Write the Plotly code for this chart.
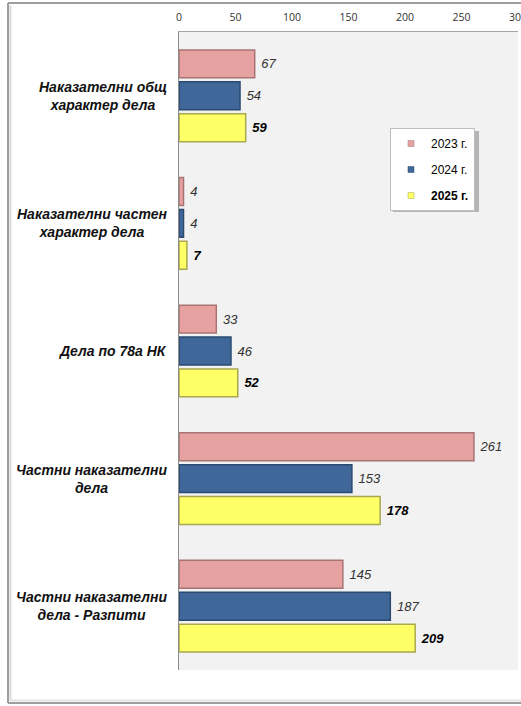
import plotly.graph_objects as go

categories = [
    "Наказателни общ<br>характер дела",
    "Наказателни частен<br>характер дела",
    "Дела по 78а НК",
    "Частни наказателни<br>дела",
    "Частни наказателни<br>дела - Разпити",
]
series_names = ["2023 г.", "2024 г.", "2025 г."]
values_2023 = [67, 4, 33, 261, 145]
values_2024 = [54, 4, 46, 153, 187]
values_2025 = [59, 7, 52, 178, 209]
x_ticks = [0, 50, 100, 150, 200, 250, 300]

series_values = [values_2023, values_2024, values_2025]
fills = ["#E6A1A1", "#3F6799", "#FFFF66"]
edges = ["#A87373", "#2B4A70", "#A8A850"]
FONT = "Liberation Sans, Arial, sans-serif"

fig = go.Figure()
for i, (name, vals) in enumerate(zip(series_names, series_values)):
    bold = i == 2
    fig.add_trace(go.Bar(
        y=categories, x=vals, orientation="h", name=name,
        marker=dict(color=fills[i], line=dict(color=edges[i], width=1.5)),
        texttemplate="\u00a0%{x}", textposition="outside", cliponaxis=False,
        textfont=dict(family=FONT, size=13, style="italic",
                      weight="bold" if bold else "normal",
                      color="#000000" if bold else "#333333"),
        showlegend=False, hoverinfo="skip",
    ))
    fig.add_trace(go.Scatter(
        x=[None], y=[None], mode="markers", name=f"<b>{name}</b>" if bold else name,
        marker=dict(symbol="square", size=6, color=fills[i], line=dict(color=edges[i], width=0.5)),
        legendgroup=name,
    ))

for cat in categories:
    fig.add_annotation(
        xref="paper", yref="y", x=-0.03, y=cat, text=f"<b><i>{cat}</i></b>",
        showarrow=False, xanchor="right", align="center",
        font=dict(family=FONT, size=14, color="#111111"),
    )

# outer chart frame (top, left, bottom edges; right edge lies outside the picture)
frame_x0, frame_x1, frame_y0, frame_y1 = -0.5044, 1.2, -0.0517, 1.0455
for (xa, ya, xb, yb) in [(frame_x0, frame_y1, frame_x1, frame_y1),
                         (frame_x0, frame_y0, frame_x0, frame_y1),
                         (frame_x0, frame_y0, frame_x1, frame_y0)]:
    fig.add_shape(type="line", xref="paper", yref="paper", x0=xa, y0=ya, x1=xb, y1=yb,
                  line=dict(color="#9e9e9e", width=2), layer="above")
fig.add_shape(type="line", xref="paper", yref="paper", x0=frame_x0 + 0.007, y0=frame_y0 + 0.004,
              x1=frame_x0 + 0.007, y1=frame_y1 - 0.004, line=dict(color="#d9d9d9", width=2), layer="above")
fig.add_shape(type="line", xref="paper", yref="paper", x0=frame_x0 + 0.007, y0=frame_y0 + 0.004,
              x1=frame_x1, y1=frame_y0 + 0.004, line=dict(color="#e3e3e3", width=2), layer="above")
# legend shadow
fig.add_shape(type="rect", xref="paper", yref="paper", x0=0.631, x1=0.885, y0=0.718, y1=0.845,
              line=dict(width=0), fillcolor="#b5b5b5", layer="above")

fig.update_layout(
    width=521, height=706,
    margin=dict(l=179, r=3, t=32, b=36, autoexpand=False),
    paper_bgcolor="white", plot_bgcolor="#F2F2F2",
    barmode="group", bargap=0.25, bargroupgap=0.125,
    font=dict(family=FONT, size=11, color="#333333"),
    xaxis=dict(range=[0, 300], side="top", tickvals=x_ticks, showgrid=False, zeroline=False,
               showline=True, linecolor="#a6a6a6", linewidth=1, ticks="",
               ticklabeloverflow="allow", automargin=False,
               tickfont=dict(family="Open Sans, Liberation Sans, sans-serif", size=10.5, color="#333333"),
               ticklabelstandoff=6, fixedrange=True),
    yaxis=dict(autorange="reversed", showticklabels=False, showgrid=False, zeroline=False,
               showline=True, linecolor="#8c8c8c", linewidth=1, ticks="", fixedrange=True,
               automargin=False),
    legend=dict(x=0.6224, y=0.8495, xanchor="left", yanchor="top", bgcolor="white",
                bordercolor="#bfbfbf", borderwidth=1, tracegroupgap=7,
                font=dict(family=FONT, size=12, color="#000000"), itemwidth=30),
)

fig.write_html("out.html", config={"displayModeBar": False},
               post_script="document.body.style.margin='0';document.body.style.overflow='hidden';")
